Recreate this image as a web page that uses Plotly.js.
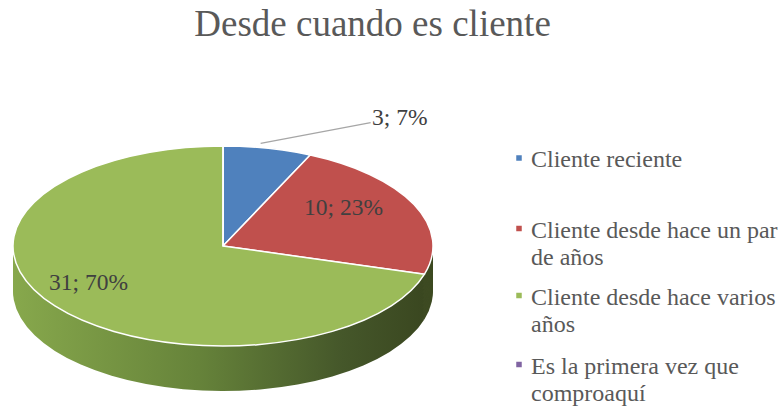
<!DOCTYPE html>
<html><head><meta charset="utf-8">
<script src="https://cdn.plot.ly/plotly-3.0.1.min.js"></script>
<style>html,body{margin:0;padding:0;background:#fff}#chart{width:783px;height:409px}</style>
</head><body><div id="chart"></div>
<script>
// ---- data ----
const categories = ["Cliente reciente", "Cliente desde hace un par de años", "Cliente desde hace varios años", "Es la primera vez que comproaquí"];
const counts = [3, 10, 31, 0];
const topColors = ["#4f81bd", "#c0504d", "#9bbb59", "#8064a2"];
const sideColors = ["#2f4d71", "#3d4a22", "#5e7a33", "#4c3c61"];
const chartTitle = "Desde cuando es cliente";

// ---- geometry / style constants ----
const W = 783, H = 409;
const CX = 223, CY = 246, RX = 210, RY = 100, DEPTH = 45, LAYERS = 12;
const APEX_Y = 234;
const labelRadius = [0, 0.64, 0.8, 0];
const legendOffsets = [-4, 82, 149, 218];
const FONT = '"Liberation Serif", "Times New Roman", serif';

function wrap(s, n) {
  const words = s.split(" "); const lines = []; let cur = "";
  words.forEach(w => {
    if (cur && (cur + " " + w).length > n) { lines.push(cur); cur = w; }
    else cur = cur ? cur + " " + w : w;
  });
  if (cur) lines.push(cur);
  return lines.join("<br>");
}
const legendLabels = categories.map(c => wrap(c, 25));

const data = [];
for (let k = 0; k < LAYERS; k++) {
  data.push({
    type: "pie", values: counts, labels: legendLabels, sort: false,
    direction: "clockwise", rotation: 0, textinfo: "none", hoverinfo: "skip",
    marker: { colors: sideColors, line: { width: 0 } }, showlegend: false,
    domain: { x: [0, 1], y: [0, 1] }
  });
}
data.push({
  type: "pie", values: counts, labels: legendLabels, sort: false,
  direction: "clockwise", rotation: 0, textinfo: "none", hoverinfo: "skip",
  marker: { colors: topColors, line: { color: "#ffffff", width: 1.5 } }, showlegend: true,
  domain: { x: [0, 1], y: [0, 1] }
});

// data labels positioned from the values
const total = counts.reduce((a, b) => a + b, 0);
const annotations = [];
let cum = 0;
counts.forEach((v, i) => {
  const mid = (cum + v / 2) / total * 2 * Math.PI;
  cum += v;
  if (v === 0) return;
  const text = v + "; " + Math.round(v / total * 100) + "%";
  if (v / total < 0.1) {
    const px = CX + RX * Math.sin(mid), py = CY - RY * Math.cos(mid);
    annotations.push({
      x: (px - 6) / W, y: 1 - (py - 5) / H, xref: "paper", yref: "paper", text: text,
      showarrow: true, arrowhead: 0, arrowwidth: 1.3, arrowcolor: "#a6a6a6",
      ax: 139, ay: -26, standoff: 0, xanchor: "center", yanchor: "middle",
      font: { family: FONT, size: 23.5, color: "#404040" }
    });
  } else {
    const f = labelRadius[i];
    const px = CX + f * RX * Math.sin(mid), py = APEX_Y - f * RY * Math.cos(mid);
    annotations.push({
      x: px / W, y: 1 - py / H, xref: "paper", yref: "paper", text: text,
      showarrow: false, xanchor: "center", yanchor: "middle",
      font: { family: FONT, size: 23.5, color: "#404040" }
    });
  }
});

const layout = {
  width: W, height: H, margin: { l: 0, r: 0, t: 0, b: 0 },
  paper_bgcolor: "#ffffff",
  title: { text: chartTitle, x: 374 / W, xanchor: "center", xref: "paper", y: 1 - 23 / H, yref: "container", yanchor: "middle",
           font: { family: FONT, size: 37, color: "#595959" } },
  showlegend: true,
  legend: { x: 493 / W, xanchor: "left", y: 1 - 140 / H, yanchor: "top", valign: "top",
            bgcolor: "rgba(0,0,0,0)", font: { family: FONT, size: 24, color: "#595959" }, traceorder: "normal" },
  annotations: annotations
};

const gd = document.getElementById("chart");
Plotly.newPlot(gd, data, layout, { staticPlot: true, displayModeBar: false }).then(() => {
  const ns = "http://www.w3.org/2000/svg";
  const svg = gd.querySelector("svg.main-svg");
  let defs = svg.querySelector("defs");
  if (!defs) { defs = document.createElementNS(ns, "defs"); svg.insertBefore(defs, svg.firstChild); }
  const lg = document.createElementNS(ns, "linearGradient");
  lg.setAttribute("id", "sideGreen"); lg.setAttribute("x1", "0"); lg.setAttribute("y1", "0"); lg.setAttribute("x2", "1"); lg.setAttribute("y2", "0");
  [[0, "#87a84c"], [0.45, "#66833a"], [0.8, "#45572a"], [1, "#3a4720"]].forEach(s => {
    const st = document.createElementNS(ns, "stop");
    st.setAttribute("offset", s[0]); st.setAttribute("stop-color", s[1]); lg.appendChild(st);
  });
  defs.appendChild(lg);

  const groups = gd.querySelectorAll(".pielayer g.trace");
  groups.forEach((g, i) => {
    const bb = g.getBBox();
    const r = bb.height / 2, cx = bb.x + bb.width / 2, cy = bb.y + bb.height / 2;
    const cdr = (gd.calcdata[i] && gd.calcdata[i][0].r) || r;
    const ccx = (gd.calcdata[i] && gd.calcdata[i][0].cx) || cx;
    const ccy = (gd.calcdata[i] && gd.calcdata[i][0].cy) || cy;
    const shift = i < LAYERS ? DEPTH * (LAYERS - i) / LAYERS : 0;
    g.setAttribute("transform", `translate(${CX},${CY + shift}) scale(${RX / cdr},${RY / cdr}) translate(${-ccx},${-ccy})`);
    g.querySelectorAll("g.slice").forEach(sl => {
      const p = sl.querySelector("path.surface");
      if (!p) return;
      p.setAttribute("vector-effect", "non-scaling-stroke");
      if (i < LAYERS && sl.__data__ && sl.__data__.i === 2) p.style.fill = "url(#sideGreen)";
    });
  });

  // legend: small symbols, Excel-like line and item spacing
  const sb = gd.querySelector(".legend .scrollbox");
  if (sb) sb.removeAttribute("clip-path");
  const items = gd.querySelectorAll(".legend .traces");
  let y0 = null;
  items.forEach((it, k) => {
    const m = /translate\(\s*([-\d.]+)[ ,]+([-\d.]+)\s*\)/.exec(it.getAttribute("transform") || "");
    if (!m) return;
    if (y0 === null) y0 = parseFloat(m[2]);
    it.setAttribute("transform", `translate(${m[1]},${y0 + legendOffsets[k]})`);
  });
  gd.querySelectorAll(".legend .legendtext tspan.line").forEach(t => {
    const dy = t.getAttribute("dy");
    if (dy && dy !== "0em" && parseFloat(dy) > 0) t.setAttribute("dy", (parseFloat(dy) * 27 / 31.2) + "em");
  });
  gd.querySelectorAll(".legend .legendpoints").forEach(lp => {
    lp.setAttribute("transform", "translate(8,0)");
    lp.querySelectorAll("path").forEach(p => p.setAttribute("d", "M3.5,3.5H-3.5V-3.5H3.5Z"));
  });
});
</script>
</body></html>
